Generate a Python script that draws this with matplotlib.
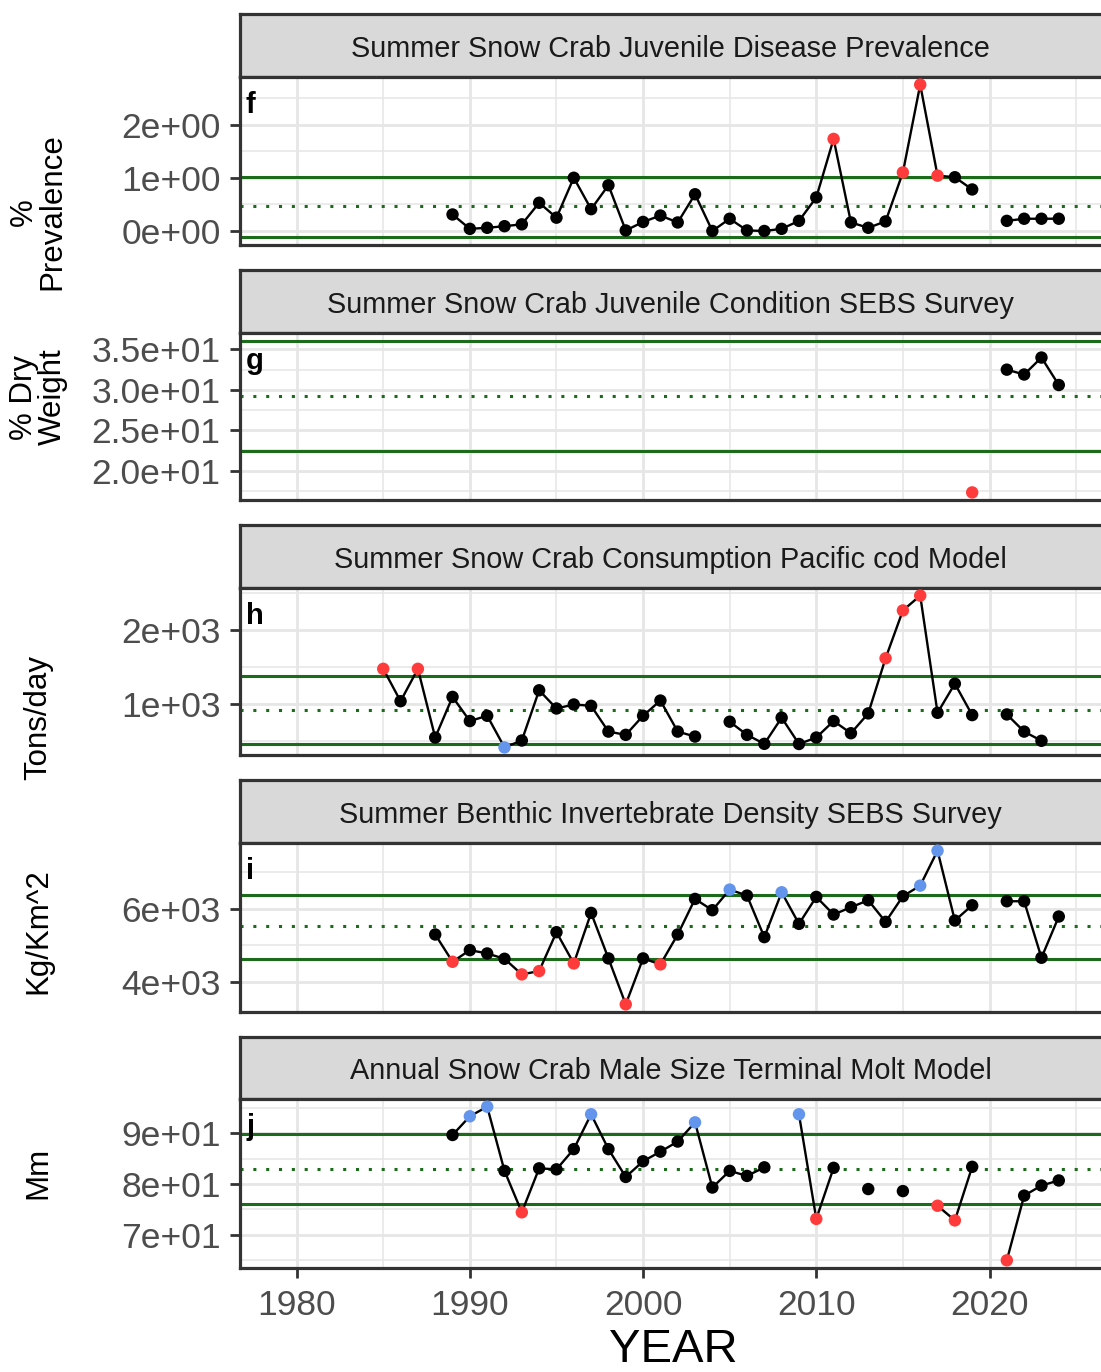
import numpy as np
import matplotlib
matplotlib.use("Agg")
import matplotlib.pyplot as plt
from matplotlib.ticker import FormatStrFormatter, FixedLocator

plt.rcParams['font.family'] = ['Liberation Sans', 'DejaVu Sans']

# ---- data ----
f_years = list(range(1989, 2025))
f_vals = [0.31, 0.04, 0.06, 0.09, 0.125, 0.53, 0.25, 1.0, 0.41, 0.86, 0.01, 0.17,
          0.29, 0.16, 0.69, 0.0, 0.23, 0.01, 0.0, 0.04, 0.19, 0.63, 1.73, 0.16,
          0.06, 0.18, 1.10, 2.75, 1.04, 1.01, 0.78, np.nan, 0.19, 0.23, 0.23, 0.23]
f_lines = [1.02, 0.47, -0.12]
f_red = [2011, 2015, 2016, 2017]
f_blue = []

g_years = list(range(2019, 2025))
g_vals = [17.3, np.nan, 32.5, 31.9, 34.0, 30.6]
g_lines = [36.1, 29.3, 22.4]
g_red = [2019]
g_blue = []

h_years = list(range(1985, 2024))
h_vals = [1476, 1040, 1476, 551, 1098, 773, 844, 418, 511, 1187, 942, 996, 978,
          631, 587, 844, 1049, 631, 564, np.nan, 764, 587, 466, 818, 464, 551,
          773, 609, 876, 1618, 2262, 2462, 884, 1276, 853, np.nan, 862, 631, 507]
h_lines = [1373, 916, 460]
h_red = [1985, 1987, 2014, 2015, 2016]
h_blue = [1992]

i_years = list(range(1988, 2025))
i_vals = [5294, 4552, 4869, 4778, 4633, 4208, 4299, 5357, 4507, 5882, 4643, 3394,
          4643, 4480, 5294, 6262, 5955, 6516, 6353, 5222, 6443, 5584, 6317, 5837,
          6036, 6226, 5638, 6335, 6624, 7575, 5674, 6090, np.nan, 6199, 6199, 4661, 5783]
i_lines = [6380, 5520, 4633]
i_red = [1989, 1993, 1994, 1996, 1999, 2001]
i_blue = [2005, 2008, 2016, 2017]

j_years = list(range(1989, 2025))
j_vals = [89.7, 93.4, 95.3, 82.6, 74.4, 83.1, 82.9, 86.9, 93.8, 86.9, 81.4, 84.5,
          86.4, 88.4, 92.2, 79.3, 82.6, 81.6, 83.3, np.nan, 93.8, 73.1, 83.2, np.nan,
          79.0, np.nan, 78.6, np.nan, 75.7, 72.8, 83.4, np.nan, 64.9, 77.7, 79.7, 80.7]
j_lines = [89.9, 82.9, 76.1]
j_red = [1993, 2010, 2017, 2018, 2021]
j_blue = [1990, 1991, 1997, 2003, 2009]

titles = ["Summer Snow Crab Juvenile Disease Prevalence",
          "Summer Snow Crab Juvenile Condition SEBS Survey",
          "Summer Snow Crab Consumption Pacific cod Model",
          "Summer Benthic Invertebrate Density SEBS Survey",
          "Annual Snow Crab Male Size Terminal Molt Model"]
ylabels = ["%\nPrevalence", "% Dry\nWeight", "Tons/day", "Kg/Km^2", "Mm"]
tags = ["f", "g", "h", "i", "j"]
yticks = [[0, 1, 2], [20, 25, 30, 35], [1000, 2000], [4000, 6000], [70, 80, 90]]
yfmt = ['%.0e', '%.1e', '%.0e', '%.0e', '%.0e']

panels = [(f_years, f_vals, f_lines, f_red, f_blue),
          (g_years, g_vals, g_lines, g_red, g_blue),
          (h_years, h_vals, h_lines, h_red, h_blue),
          (i_years, i_vals, i_lines, i_red, i_blue),
          (j_years, j_vals, j_lines, j_red, j_blue)]

# pixel layout (strip top, panel top, panel bottom) and y-label centres
W, H = 1101, 1372
rows = [(14, 77, 245), (270, 333, 500), (525, 588, 755), (780, 843, 1012), (1037, 1099, 1268)]
ylab_y = [212, 397, 717, 931, 1173]
left_px, right_px = 240, 1104

BORDER = '#333333'
GRID = '#E6E6E6'
GREEN = '#1B6B1B'
RED = '#FF3B3B'
BLUE = '#6495ED'

fig = plt.figure(figsize=(W / 100, H / 100), dpi=100)

for k, (years, vals, lines, red, blue) in enumerate(panels):
    s_top, p_top, p_bot = rows[k]
    x0 = left_px / W
    w = (right_px - left_px) / W

    # strip
    sax = fig.add_axes([x0, 1 - p_top / H, w, (p_top - s_top) / H])
    sax.set_facecolor('#D9D9D9')
    sax.set_xticks([])
    sax.set_yticks([])
    for sp in sax.spines.values():
        sp.set_color(BORDER)
        sp.set_linewidth(2.3)
    sax.text(0.5 * (1101 - 240) / (right_px - 240), 0.45, titles[k], ha='center', va='center',
             fontsize=20.8, color='#1A1A1A', transform=sax.transAxes)

    # panel
    ax = fig.add_axes([x0, 1 - p_bot / H, w, (p_bot - p_top) / H])
    years = np.array(years)
    vals = np.array(vals, dtype=float)

    ax.set_xlim(1976.73, 2026.61)
    lo = min(np.nanmin(vals), min(lines))
    hi = max(np.nanmax(vals), max(lines))
    pad = (hi - lo) * 0.05
    ax.set_ylim(lo - pad, hi + pad)

    ax.xaxis.set_major_locator(FixedLocator([1980, 1990, 2000, 2010, 2020]))
    ax.xaxis.set_minor_locator(FixedLocator([1975, 1985, 1995, 2005, 2015, 2025]))
    yt = yticks[k]
    step = yt[1] - yt[0]
    ax.yaxis.set_major_locator(FixedLocator(yt))
    ax.yaxis.set_minor_locator(FixedLocator([t - step / 2 for t in yt] + [yt[-1] + step / 2]))
    ax.yaxis.set_major_formatter(FormatStrFormatter(yfmt[k]))

    ax.grid(which='major', color=GRID, linewidth=2.0, zorder=0)
    ax.grid(which='minor', color=GRID, linewidth=1.1, zorder=0)
    ax.set_axisbelow(True)

    ax.axhline(lines[0], color=GREEN, lw=2.2, zorder=2)
    ax.axhline(lines[2], color=GREEN, lw=2.2, zorder=2)
    ax.axhline(lines[1], color=GREEN, lw=2.2, ls=(0, (1, 3.2)), zorder=2)

    ax.plot(years, vals, color='black', lw=1.7, zorder=3)
    cols = [RED if y in red else (BLUE if y in blue else 'black') for y in years]
    ok = ~np.isnan(vals)
    ax.scatter(years[ok], vals[ok], c=[c for c, o in zip(cols, ok) if o], s=80,
               zorder=4, linewidths=0)

    for sp in ax.spines.values():
        sp.set_color(BORDER)
        sp.set_linewidth(2.3)
    ax.tick_params(axis='y', which='major', length=7, width=2.0, color=BORDER,
                   labelsize=25.5, labelcolor='#4D4D4D', pad=7)
    ax.tick_params(which='minor', length=0)
    if k == 4:
        ax.tick_params(axis='x', which='major', length=7, width=2.0, color=BORDER,
                       labelsize=25.5, labelcolor='#4D4D4D', pad=8)
    else:
        ax.tick_params(axis='x', which='major', length=0, labelbottom=False)

    ax.text(6 / (right_px - left_px), 1 - 36 / (p_bot - p_top), tags[k], transform=ax.transAxes,
            fontsize=21, fontweight='bold', ha='left', va='baseline', color='black', zorder=5)

    fig.text(38 / W, 1 - ylab_y[k] / H, ylabels[k], rotation=90, ha='center', va='center',
             fontsize=22.5, linespacing=0.95, multialignment='center', color='black')

fig.text(673 / W, 1 - 1350 / H, "YEAR", ha='center', va='center', fontsize=34, color='black')

fig.savefig('out.png', dpi=100)
